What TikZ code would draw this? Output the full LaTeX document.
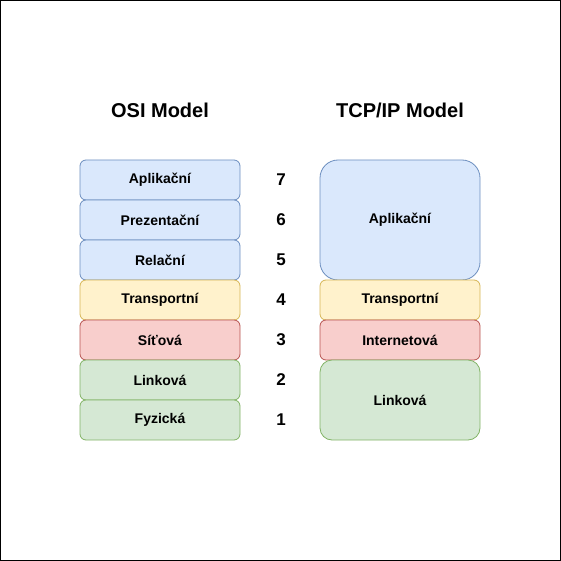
\documentclass[tikz,border=0pt]{standalone}
\usepackage{fontspec}
\setmainfont{Liberation Sans}
\definecolor{blueFill}{HTML}{DAE8FC}
\definecolor{blueLine}{HTML}{6C8EBF}
\definecolor{yellowFill}{HTML}{FFF2CC}
\definecolor{yellowLine}{HTML}{D6B656}
\definecolor{redFill}{HTML}{F8CECC}
\definecolor{redLine}{HTML}{B85450}
\definecolor{greenFill}{HTML}{D5E8D4}
\definecolor{greenLine}{HTML}{82B366}
\tikzset{
    layer/.style={draw, rectangle, rounded corners=6pt, line width=0.8pt,
        minimum width=160pt, minimum height=40pt, inner sep=0pt, outer sep=0pt,
        font=\fontsize{14}{16}\selectfont\bfseries},
    bluelayer/.style={layer, fill=blueFill, draw=blueLine},
    yellowlayer/.style={layer, fill=yellowFill, draw=yellowLine},
    redlayer/.style={layer, fill=redFill, draw=redLine},
    greenlayer/.style={layer, fill=greenFill, draw=greenLine},
    title/.style={font=\fontsize{20}{24}\selectfont\bfseries},
    num/.style={font=\fontsize{17}{20}\selectfont\bfseries}
}
\begin{document}
\begin{tikzpicture}[x=1pt, y=-1pt]
        \draw[line width=1pt] (0.5, 0.5) rectangle (560.5, 560.5);
        \useasboundingbox (0, 0) rectangle (561, 561);
        % titles
        \node[title] (osiTitle) at (160, 110) {OSI Model};
        \node[title] (tcpTitle) at (400, 110) {TCP/IP Model};
        % OSI layers
        \node[bluelayer] (osiApp) at (160, 180) {Aplikační};
        \node[bluelayer] (osiPres) at (160, 220) {Prezentační};
        \node[bluelayer] (osiSes) at (160, 260) {Relační};
        \node[yellowlayer] (osiTrans) at (160, 300) {Transportní};
        \node[redlayer] (osiNet) at (160, 340) {Síťová};
        \node[greenlayer] (osiLink) at (160, 380) {Linková};
        \node[greenlayer] (osiPhys) at (160, 420) {Fyzická};
        % layer numbers
        \node[num] (n7) at (281, 180) {7};
        \node[num] (n6) at (281, 220) {6};
        \node[num] (n5) at (281, 260) {5};
        \node[num] (n4) at (281, 300) {4};
        \node[num] (n3) at (281, 340) {3};
        \node[num] (n2) at (281, 380) {2};
        \node[num] (n1) at (281, 420) {1};
        % TCP/IP layers
        \node[bluelayer, minimum height=120pt, rounded corners=18pt] (tcpApp) at (400, 220) {Aplikační};
        \node[yellowlayer] (tcpTrans) at (400, 300) {Transportní};
        \node[redlayer] (tcpNet) at (400, 340) {Internetová};
        \node[greenlayer, minimum height=80pt, rounded corners=12pt] (tcpLink) at (400, 400) {Linková};
    \end{tikzpicture}
\end{document}
